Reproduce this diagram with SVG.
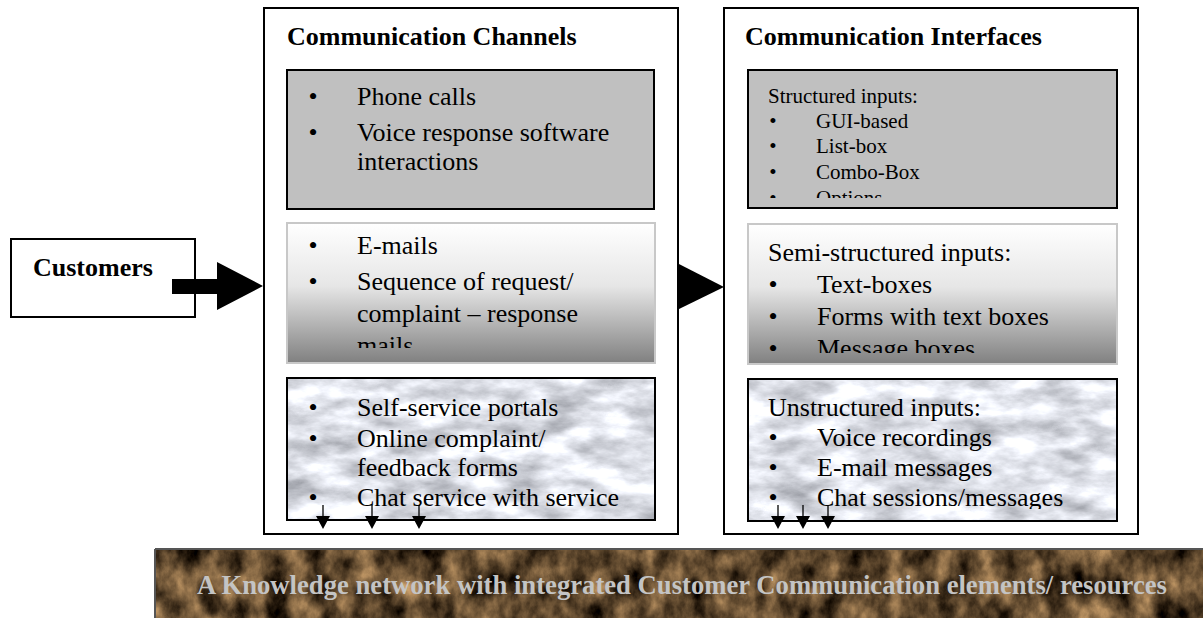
<svg xmlns="http://www.w3.org/2000/svg" width="1203" height="618" viewBox="0 0 1203 618">
<style>
.t{font-family:"Liberation Serif","Times New Roman",serif;fill:#000}
.b{font-weight:bold;font-size:26px}
.n{font-size:26px}
.s{font-size:21px}
.outer{fill:#fff;stroke:#000;stroke-width:2}
.gray{fill:#c0c0c0;stroke:#000;stroke-width:2}
.grad{fill:url(#g1);stroke:#c8c8c8;stroke-width:2}
.mb{fill:none;stroke:#000;stroke-width:2}
.ban{font-family:"Liberation Serif","Times New Roman",serif;font-weight:bold;font-size:26.5px;fill:#c4c4c4}
.sa{stroke:#000;stroke-width:1.3}
</style>
<defs>
<linearGradient id="g1" x1="0" y1="0" x2="0" y2="1">
<stop offset="0" stop-color="#ffffff"/>
<stop offset="0.45" stop-color="#e6e6e6"/>
<stop offset="1" stop-color="#808080"/>
</linearGradient>
<filter id="marble" filterUnits="objectBoundingBox" x="0" y="0" width="1" height="1" color-interpolation-filters="sRGB">
<feTurbulence type="fractalNoise" baseFrequency="0.022 0.05" numOctaves="5" seed="7"/>
<feColorMatrix type="matrix" values="-0.65 0 0 0 1.2  -0.65 0 0 0 1.21  -0.65 0 0 0 1.24  0 0 0 0 1"/>
</filter>
<filter id="wood" filterUnits="objectBoundingBox" x="0" y="0" width="1" height="1" color-interpolation-filters="sRGB">
<feTurbulence type="fractalNoise" baseFrequency="0.045 0.03" numOctaves="5" seed="11"/>
<feColorMatrix type="matrix" values="1.05 0 0 0 -0.15  0.85 0 0 0 -0.14  0.6 0 0 0 -0.12  0 0 0 0 1"/>
</filter>
<clipPath id="c2"><rect x="288" y="224" width="366" height="124"/></clipPath>
<clipPath id="c3"><rect x="288" y="379" width="366" height="139"/></clipPath>
<clipPath id="c4"><rect x="749" y="71" width="367" height="127"/></clipPath>
<clipPath id="c5"><rect x="749" y="225" width="367" height="128"/></clipPath>
<clipPath id="c6"><rect x="749" y="380" width="367" height="129"/></clipPath>
</defs>
<rect width="1203" height="618" fill="#fff"/>

<g id="customers">
<rect x="11" y="239" width="184" height="78" class="outer"/>
<text x="33" y="276" class="t b">Customers</text>
</g>

<g id="channels">
<rect x="264" y="8" width="414" height="526" class="outer"/>
<text x="287" y="45" class="t b">Communication Channels</text>
</g>
<g id="interfaces">
<rect x="724" y="8" width="414" height="526" class="outer"/>
<text x="745" y="45" class="t b">Communication Interfaces</text>
</g>

<g id="phone">
<rect x="287" y="70" width="367" height="139" class="gray"/>
<g class="t n">
<text x="313" y="105" text-anchor="middle">•</text><text x="357" y="105">Phone calls</text>
<text x="313" y="141" text-anchor="middle">•</text><text x="357" y="141">Voice response software</text>
<text x="357" y="170">interactions</text>
</g>
</g>

<g id="email">
<rect x="287" y="223" width="368" height="140" class="grad"/>
<g class="t n" clip-path="url(#c2)">
<text x="313" y="254" text-anchor="middle">•</text><text x="357" y="254">E-mails</text>
<text x="313" y="290" text-anchor="middle">•</text><text x="357" y="290">Sequence of request/</text>
<text x="357" y="322">complaint – response</text>
<text x="357" y="354">mails</text>
</g>
</g>

<g id="selfservice">
<rect x="287" y="378" width="368" height="142" filter="url(#marble)"/>
<rect x="287" y="378" width="368" height="142" class="mb"/>
<g class="t n" clip-path="url(#c3)">
<text x="313" y="416" text-anchor="middle">•</text><text x="357" y="416">Self-service portals</text>
<text x="313" y="447" text-anchor="middle">•</text><text x="357" y="447">Online complaint/</text>
<text x="357" y="476">feedback forms</text>
<text x="313" y="506" text-anchor="middle">•</text><text x="357" y="506">Chat service with service</text>
</g>
</g>

<g id="structured">
<rect x="748" y="70" width="369" height="138" class="gray"/>
<g class="t s" clip-path="url(#c4)">
<text x="768" y="103">Structured inputs:</text>
<text x="773" y="128" text-anchor="middle">•</text><text x="816" y="128">GUI-based</text>
<text x="773" y="153" text-anchor="middle">•</text><text x="816" y="153">List-box</text>
<text x="773" y="179" text-anchor="middle">•</text><text x="816" y="179">Combo-Box</text>
<text x="773" y="205" text-anchor="middle">•</text><text x="816" y="205">Options</text>
</g>
</g>

<g id="semistructured">
<rect x="748" y="224" width="369" height="140" class="grad"/>
<g class="t n" clip-path="url(#c5)">
<text x="768" y="261">Semi-structured inputs:</text>
<text x="773" y="293" text-anchor="middle">•</text><text x="817" y="293">Text-boxes</text>
<text x="773" y="325" text-anchor="middle">•</text><text x="817" y="325">Forms with text boxes</text>
<text x="773" y="357" text-anchor="middle">•</text><text x="817" y="357">Message boxes</text>
</g>
</g>

<g id="unstructured">
<rect x="748" y="379" width="369" height="142" filter="url(#marble)"/>
<rect x="748" y="379" width="369" height="142" class="mb"/>
<g class="t n" clip-path="url(#c6)">
<text x="768" y="416">Unstructured inputs:</text>
<text x="773" y="446" text-anchor="middle">•</text><text x="817" y="446">Voice recordings</text>
<text x="773" y="476" text-anchor="middle">•</text><text x="817" y="476">E-mail messages</text>
<text x="773" y="506" text-anchor="middle">•</text><text x="817" y="506">Chat sessions/messages</text>
</g>
</g>

<g id="knowledge">
<rect x="155" y="549" width="1048" height="69" filter="url(#wood)"/>
<line x1="155" y1="549" x2="1203" y2="549" stroke="#555" stroke-width="2"/>
<line x1="155" y1="549" x2="155" y2="618" stroke="#555" stroke-width="2"/>
<text x="197" y="594" class="ban" textLength="970" lengthAdjust="spacingAndGlyphs">A Knowledge network with integrated Customer Communication elements/ resources</text>
</g>

<g id="connectors">
<polygon points="172,279 217,279 217,262 263,286 217,310 217,294 172,294" fill="#000"/>
<polygon points="677,263 724,287 677,310" fill="#000"/>
<g class="sa">
<line x1="323" y1="505" x2="323" y2="518"/>
<line x1="372" y1="505" x2="372" y2="518"/>
<line x1="419" y1="505" x2="419" y2="518"/>
<line x1="778" y1="505" x2="778" y2="518"/>
<line x1="803" y1="505" x2="803" y2="518"/>
<line x1="828" y1="505" x2="828" y2="518"/>
</g>
<path d="M316,516 L330,516 L323,529 Z M365,516 L379,516 L372,529 Z M412,516 L426,516 L419,529 Z M771,516 L785,516 L778,529 Z M796,516 L810,516 L803,529 Z M821,516 L835,516 L828,529 Z" fill="#000"/>
</g>
</svg>
